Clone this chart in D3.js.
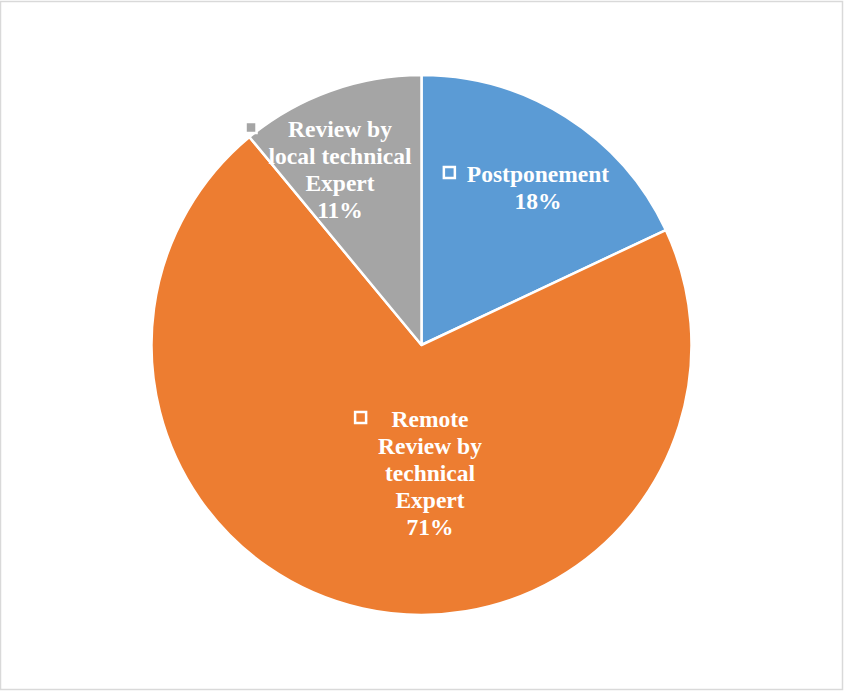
<!DOCTYPE html>
<html><head><meta charset="utf-8">
<script src="https://cdn.jsdelivr.net/npm/d3@7"></script>
<style>html,body{margin:0;padding:0;background:#fff;}</style>
</head><body>
<svg id="chart" width="844" height="691"></svg>
<script>
const categories = ["Postponement", "Remote Review by technical Expert", "Review by local technical Expert"];
const values = [18, 71, 11];
const colors = ["#5b9bd5", "#ed7d31", "#a5a5a5"];
const labelLines = [["Postponement", "18%"], ["Remote", "Review by", "technical", "Expert", "71%"], ["Review by", "local technical", "Expert", "11%"]];

const W = 844, H = 691;
const svg = d3.select("#chart");
svg.append("rect").attr("x", 0.5).attr("y", 1.5).attr("width", W - 2).attr("height", H - 3)
  .attr("fill", "#fff").attr("stroke", "#d9d9d9").attr("stroke-width", 1.5);

const cx = 421.5, cy = 345, R = 270;
const pie = d3.pie().sort(null).value(d => d)(values);
const arc = d3.arc().innerRadius(0).outerRadius(R);
const g = svg.append("g").attr("transform", `translate(${cx},${cy})`);
g.selectAll("path").data(pie).join("path")
  .attr("d", arc).attr("fill", (d, i) => colors[i])
  .attr("stroke", "#fff").attr("stroke-width", 2.5).attr("stroke-linejoin", "round");

const labelLayout = [
  { x: 538, y: 182 },
  { x: 430, y: 427 },
  { x: 340, y: 137 }
];
const lineH = 27;
labelLines.forEach((lines, i) => {
  const lg = svg.append("g");
  const texts = lg.selectAll("text").data(lines).join("text")
    .attr("x", labelLayout[i].x).attr("y", (d, j) => labelLayout[i].y + j * lineH)
    .attr("text-anchor", "middle")
    .style("font-family", '"Liberation Serif"')
    .style("font-weight", "bold").style("font-size", "23.5px")
    .style("fill", "#fff")
    .text(d => d);
  let maxW = 0;
  texts.each(function () { maxW = Math.max(maxW, this.getComputedTextLength()); });
  const left = labelLayout[i].x - maxW / 2;
  const s = 11;
  lg.insert("rect", "text")
    .attr("x", left - 17.5 - s / 2).attr("y", labelLayout[i].y - 9.5 - s / 2)
    .attr("width", s).attr("height", s)
    .attr("fill", colors[i]).attr("stroke", "#fff").attr("stroke-width", 2.5);
});
</script>
</body></html>
